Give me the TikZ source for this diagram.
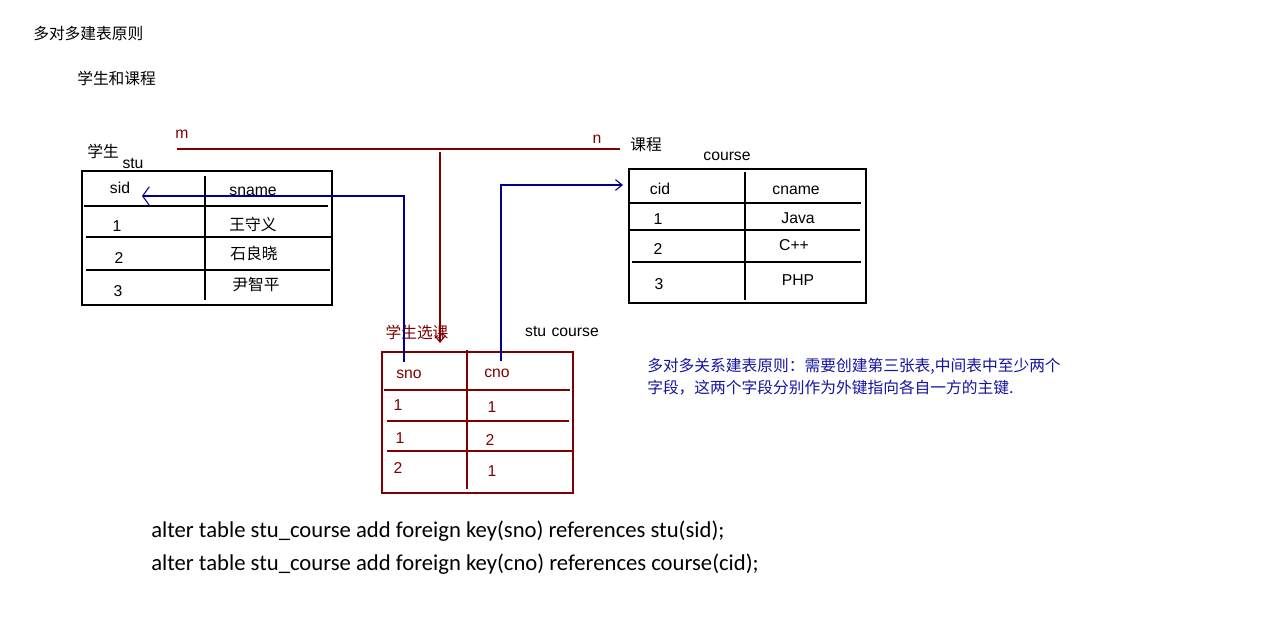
\documentclass[tikz,border=0pt]{standalone}
\usepackage{fontspec}
\setmainfont{Liberation Sans}
\newfontfamily\cjk{Noto Sans CJK SC}
\newfontfamily\sqlfont{Carlito}
\usetikzlibrary{arrows.meta}

\definecolor{darkred}{RGB}{128,0,0}
\definecolor{navy}{RGB}{0,0,140}
\definecolor{noteblue}{RGB}{20,20,160}

\begin{document}
\begin{tikzpicture}[x=0.75pt,y=-0.75pt,
    txt/.style={inner sep=0pt, font=\fontsize{11.8}{14}\selectfont},
    hz/.style={inner sep=0pt, font=\cjk\fontsize{11.8}{14}\selectfont},
    grid/.style={line width=0.8pt},
    link/.style={navy, line width=0.8pt, -{Straight Barb[length=5pt,width=8pt]}},
    sql/.style={inner sep=0pt, anchor=west, font=\sqlfont\fontsize{17}{20}\selectfont}]
    \useasboundingbox (0,0) rectangle (1288,617);

    % titles
    \node[hz, anchor=west] (title) at (33,34) {多对多建表原则};
    \node[hz, anchor=west] (subtitle) at (77,78) {学生和课程};

    % table stu
    \node[hz] (stuCn) at (103,151) {学生};
    \node[txt] (stuEn) at (133,163) {stu};
    \draw[grid] (82,171) rectangle (332,305);
    \draw[grid] (205,176) -- (205,300);
    \draw[grid] (84,206) -- (328,206);
    \draw[grid] (86,237) -- (332,237);
    \draw[grid] (86,270) -- (330,270);
    \node[txt] (sid) at (120,188) {sid};
    \node[txt] (sname) at (253,191) {sname};
    \foreach \x/\y/\t [count=\i] in {117/226/1, 119/258/2, 118/291/3}
        {\node[txt] (stuId\i) at (\x,\y) {\t};}
    \foreach \x/\y/\t [count=\i] in {253/224/王守义, 254/253/石良晓, 256/285/尹智平}
        {\node[hz] (stuName\i) at (\x,\y) {\t};}

    % table course
    \node[hz] (courseCn) at (646,145) {课程};
    \node[txt] (courseEn) at (727,156) {course};
    \draw[grid] (629,169) rectangle (866,303);
    \draw[grid] (745,172) -- (745,300);
    \draw[grid] (629,203) -- (861,203);
    \draw[grid] (629,230) -- (860,230);
    \draw[grid] (632,262) -- (861,262);
    \node[txt] (cid) at (660,189) {cid};
    \node[txt] (cname) at (796,190) {cname};
    \foreach \x/\y/\t [count=\i] in {658/219/1, 658/249/2, 659/284/3, 798/218/Java, 794/245/C++, 798/280/PHP}
        {\node[txt] (courseCell\i) at (\x,\y) {\t};}

    % table stu_course
    \node[hz, darkred] (relCn) at (417,332) {学生选课};
    \node[txt] (relEn) at (562,331) {stu\hspace{4pt}course};
    \draw[grid, darkred] (382,352) rectangle (573,493);
    \draw[grid, darkred] (467,350) -- (467,489);
    \draw[grid, darkred] (384,390) -- (570,390);
    \draw[grid, darkred] (387,421) -- (569,421);
    \draw[grid, darkred] (387,451) -- (573,451);
    \node[txt, darkred] (sno) at (409,374) {sno};
    \node[txt, darkred] (cno) at (497,373) {cno};
    \foreach \x/\y/\t [count=\i] in {398/405/1, 492/407/1, 400/438/1, 490/440/2, 398/468/2, 492/471/1}
        {\node[txt, darkred] (relCell\i) at (\x,\y) {\t};}

    % m : n
    \node[txt, darkred] (m) at (182,134) {m};
    \node[txt, darkred] (n) at (597,139) {n};
    \coordinate (mEnd) at (177,149);
    \coordinate (nEnd) at (620,149);
    \coordinate (midTop) at (440,152);
    \coordinate (relIn) at (440,343);
    \draw[darkred, line width=0.8pt] (mEnd) -- (nEnd);
    \draw[darkred, line width=0.8pt, -{Straight Barb[length=5pt,width=8pt]}] (midTop) -- (relIn);

    % foreign keys
    \coordinate (snoOut) at (404,362);
    \coordinate (sidIn) at (142,196);
    \coordinate (cnoOut) at (501,361);
    \coordinate (cidIn) at (623,185);
    \draw[link, -{Straight Barb[length=5pt,width=14pt]}] (snoOut) |- (sidIn);
    \draw[link] (cnoOut) |- (cidIn);

    % note
    \node[hz, noteblue, anchor=west] (note1) at (647,366) {多对多关系建表原则：需要创建第三张表,中间表中至少两个};
    \node[hz, noteblue, anchor=west] (note2) at (647,388) {字段，这两个字段分别作为外键指向各自一方的主键.};

    % sql
    \node[sql] (sql1) at (151,531) {alter table stu\_course add foreign key(sno) references stu(sid);};
    \node[sql] (sql2) at (151,564) {alter table stu\_course add foreign key(cno) references course(cid);};
\end{tikzpicture}
\end{document}
